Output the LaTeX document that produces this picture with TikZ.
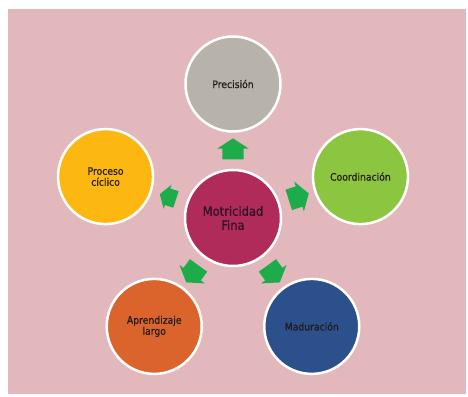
\documentclass[tikz,border=0pt]{standalone}
\usepackage{fontspec}
\setmainfont{DejaVu Sans Condensed}[FakeBold=0.5]
\usetikzlibrary{shapes.arrows,calc}

\definecolor{paper}{RGB}{226,184,189}
\definecolor{cgrey}{RGB}{184,179,170}
\definecolor{cyellow}{RGB}{252,184,16}
\definecolor{cgreen}{RGB}{140,198,64}
\definecolor{corange}{RGB}{218,100,44}
\definecolor{cblue}{RGB}{44,80,140}
\definecolor{ccrimson}{RGB}{176,42,90}
\definecolor{carrow}{RGB}{28,172,74}
\definecolor{ink}{RGB}{36,26,26}

\tikzset{
  bubble/.style={circle, draw=white, line width=2.5pt, minimum size=95pt,
    inner sep=0pt, align=center, text=ink,
    font=\fontsize{10.3}{11}\selectfont},
  hub/.style={bubble, minimum size=96pt, text={rgb,255:red,48;green,18;blue,38},
    font=\fontsize{12.8}{14}\selectfont},
  blockarrow/.style={single arrow, fill=carrow, draw=none, inner sep=0pt,
    minimum height=21pt, single arrow head extend=5pt,
    single arrow tip angle=114},
  smallarrow/.style={blockarrow, minimum height=17pt,
    single arrow head extend=4pt}
}
% invisible struts that set the stem width of the block arrows
\newcommand{\stemwide}{\rule{0pt}{21pt}}
\newcommand{\stemnarrow}{\rule{0pt}{17pt}}

\begin{document}
\begin{tikzpicture}[x=1pt,y=1pt]
  \useasboundingbox (0,0) rectangle (468,396);
  % paper background
  \fill[paper] (8,2) rectangle (466,387);

  % central idea
  \node[hub, fill=ccrimson] (m) at (233,178) {Motricidad\\Fina};

  % surrounding ideas on a regular pentagon
  \node[bubble, fill=cgrey]   (p1) at ([shift={(90:134)}]m.center)   {Precisión};
  \node[bubble, fill=cgreen]  (p2) at ([shift={(18:134)}]m.center)   {Coordinación};
  \node[bubble, fill=cblue]   (p3) at ([shift={(-54:134)}]m.center)  {Maduración};
  \node[bubble, fill=corange] (p4) at ([shift={(-126:134)}]m.center) {Aprendizaje\\largo};
  \node[bubble, fill=cyellow] (p5) at ([shift={(162:134)}]m.center)  {Proceso\\cíclico};

  % diverging arrows
  \node[blockarrow, rotate=90]   (a1) at ($(m.center)!0.49!(p1.center)$) {\stemwide};
  \node[blockarrow, rotate=18]   (a2) at ($(m.center)!0.49!(p2.center)$) {\stemwide};
  \node[blockarrow, rotate=-54]  (a3) at ($(m.center)!0.49!(p3.center)$) {\stemwide};
  \node[blockarrow, rotate=-126] (a4) at ($(m.center)!0.49!(p4.center)$) {\stemwide};
  \node[smallarrow, rotate=162]  (a5) at ($(m.center)!0.49!(p5.center)$) {\stemnarrow};
\end{tikzpicture}
\end{document}
